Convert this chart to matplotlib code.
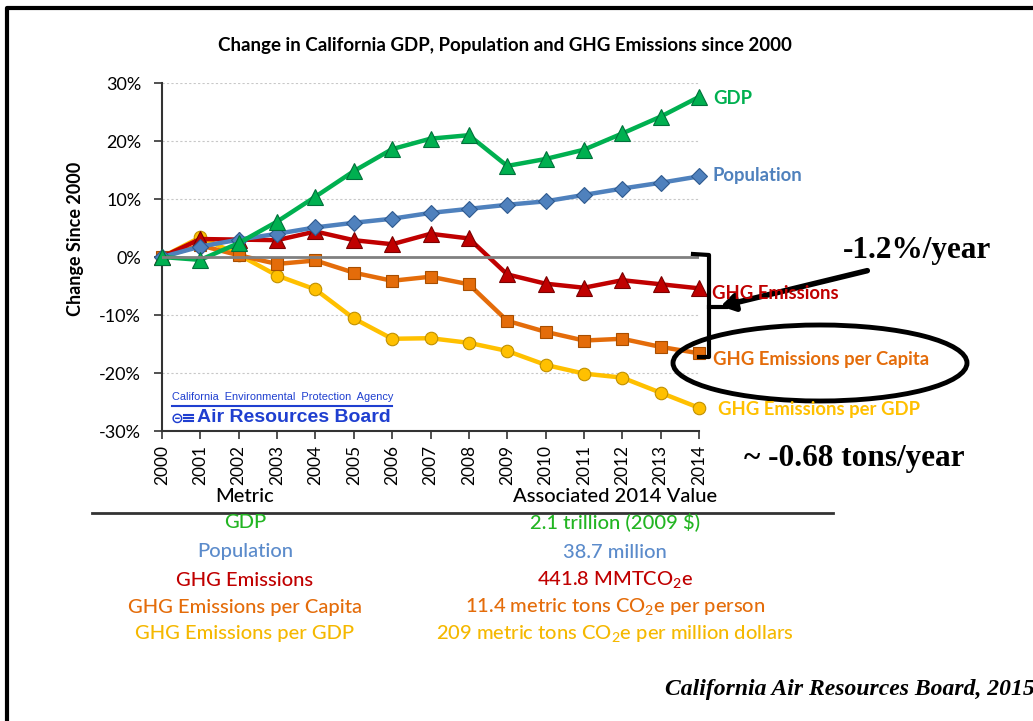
import numpy as np
import matplotlib
matplotlib.use("Agg")
import matplotlib.pyplot as plt
from matplotlib.patches import Ellipse, FancyArrowPatch
from matplotlib.lines import Line2D
from matplotlib.ticker import FuncFormatter

plt.rcParams['font.family'] = ['Lato', 'DejaVu Sans']
plt.rcParams['mathtext.fontset'] = 'custom'
plt.rcParams['mathtext.rm'] = 'Lato'

# data (percent change since 2000)
years = list(range(2000, 2015))
gdp = [0, -0.5, 2.4, 6.1, 10.4, 14.8, 18.6, 20.4, 21.0, 15.7, 16.9, 18.5, 21.3, 24.2, 27.6]
population = [0, 1.8, 3.0, 4.0, 5.1, 5.9, 6.6, 7.6, 8.3, 9.0, 9.6, 10.7, 11.8, 12.8, 13.9]
ghg = [0, 3.1, 3.0, 2.9, 4.4, 2.9, 2.2, 4.0, 3.2, -3.0, -4.6, -5.3, -4.0, -4.7, -5.4]
ghg_capita = [0, 2.0, 0.3, -1.2, -0.6, -2.7, -4.1, -3.4, -4.7, -11.0, -12.9, -14.4, -14.1, -15.5, -16.6]
ghg_gdp = [0, 3.4, 0.4, -3.2, -5.6, -10.6, -14.1, -14.0, -14.8, -16.2, -18.6, -20.1, -20.8, -23.4, -26.0]

metrics = ["GDP", "Population", "GHG Emissions", "GHG Emissions per Capita", "GHG Emissions per GDP"]
values_2014 = ["2.1 trillion (2009 $)", "38.7 million", r"441.8 MMTCO$_\mathregular{2}$e",
               r"11.4 metric tons CO$_\mathregular{2}$e per person",
               r"209 metric tons CO$_\mathregular{2}$e per million dollars"]

W, H = 1033, 721
def fx(x):
    return x / W
def fy(y):
    return 1 - y / H

fig = plt.figure(figsize=(W / 100, H / 100), dpi=100)
ax = fig.add_axes([fx(162), fy(431), fx(699) - fx(162), fy(83) - fy(431)])

series = [
    (ghg_gdp, '#FFC000', 'o', '#C09000', 9),
    (ghg_capita, '#E46C0A', 's', '#A84E00', 9),
    (ghg, '#C00000', '^', '#7A0000', 11),
    (population, '#4F81BD', 'D', '#2F5A8F', 8),
    (gdp, '#00B050', '^', '#00703A', 11),
]
for vals, col, mk, ec, ms in series:
    ax.plot(years, vals, color=col, lw=3.2, marker=mk, ms=ms, mfc=col, mec=ec, mew=0.8,
            clip_on=False, zorder=3)

for g in [-20, -10, 10, 20, 30]:
    ax.plot([2000, 2014], [g, g], color='#C8C8C8', lw=0.8, ls=(0, (2, 2)), zorder=1)
ax.plot([2000, 2014], [0, 0], color='#808080', lw=2, zorder=4)

ax.set_xlim(2000, 2014)
ax.set_ylim(-30, 30)
ax.set_yticks([-30, -20, -10, 0, 10, 20, 30])
ax.yaxis.set_major_formatter(FuncFormatter(lambda v, p: f"{v:.0f}%"))
ax.set_xticks(years)
ax.set_xticklabels([str(y) for y in years], rotation=90, fontsize=12.5)
ax.tick_params(axis='y', labelsize=13, length=6, width=1.2, color='#333333', pad=9)
ax.tick_params(axis='x', length=6, width=1.2, color='#333333', pad=4)
for s in ['top', 'right']:
    ax.spines[s].set_visible(False)
for s in ['left', 'bottom']:
    ax.spines[s].set_color('#333333')
    ax.spines[s].set_linewidth(1.5)

fig.text(fx(75), fy(239), "Change Since 2000", rotation=90, ha='center', va='center',
         fontsize=13, fontweight='bold')

fig.text(fx(505), fy(46), "Change in California GDP, Population and GHG Emissions since 2000",
         ha='center', va='center', fontsize=13.5, fontweight='bold')

# series end labels
end_labels = [
    ("GDP", 713, 99, '#00B050'),
    ("Population", 713, 175, '#4F81BD'),
    ("GHG Emissions", 712, 293, '#C00000'),
    ("GHG Emissions per Capita", 713, 360, '#E46C0A'),
    ("GHG Emissions per GDP", 718, 410, '#FFC000'),
]
for t, x, y, c in end_labels:
    fig.text(fx(x), fy(y), t, ha='left', va='center', fontsize=13.3, fontweight='bold', color=c)

# logo
fig.text(fx(172), fy(397), "California  Environmental  Protection  Agency", ha='left', va='center',
         fontsize=7.9, color='#1F3FD0', family=['Liberation Sans', 'DejaVu Sans'])
fig.add_artist(Line2D([fx(172), fx(392)], [fy(406), fy(406)], color='#1F3FD0', lw=1.5))
fig.text(fx(197), fy(418), "Air Resources Board", ha='left', va='center', fontsize=14,
         fontweight='bold', color='#1F3FD0', family=['Liberation Sans', 'DejaVu Sans'])
fig.text(fx(171), fy(418), "\u229d", ha='left', va='center', fontsize=11, fontweight='bold',
         color='#1F3FD0', family=['DejaVu Sans'])
for dy in (-3, 0, 3):
    fig.add_artist(Line2D([fx(184), fx(193)], [fy(418 + dy), fy(418 + dy)], color='#1F3FD0', lw=1.5))

# annotations
bx = [fx(693), fx(709), fx(709), fx(699)]
by = [fy(254), fy(255), fy(357), fy(357)]
fig.add_artist(Line2D(bx, by, color='black', lw=3))
fig.add_artist(Line2D([fx(709), fx(726)], [fy(307), fy(307)], color='black', lw=3))
fig.add_artist(FancyArrowPatch((fx(870), fy(270)), (fx(718), fy(307)), transform=fig.transFigure,
                               arrowstyle='-|>,head_length=8,head_width=5', color='black', lw=4,
                               mutation_scale=1))
fig.add_artist(Ellipse((fx(820), fy(363)), fx(294), 76 / H, transform=fig.transFigure,
                       fill=False, ec='black', lw=3.5))
serif = ['Liberation Serif', 'DejaVu Serif']
fig.text(fx(917), fy(250), "-1.2%/year", ha='center', va='center', fontsize=22.5,
         fontweight='bold', family=serif)
fig.text(fx(854), fy(458), "~ -0.68 tons/year", ha='center', va='center', fontsize=22.5,
         fontweight='bold', family=serif)
fig.text(fx(665), fy(690), "California Air Resources Board, 2015", ha='left', va='center',
         fontsize=17, fontweight='bold', style='italic', family=serif)

# table
fig.text(fx(245), fy(497), "Metric", ha='center', va='center', fontsize=14.5, fontweight='medium')
fig.text(fx(615), fy(497), "Associated 2014 Value", ha='center', va='center', fontsize=14.5,
         fontweight='medium')
fig.add_artist(Line2D([fx(92), fx(833)], [fy(513), fy(513)], color='#333333', lw=2))
row_colors = ['#22B522', '#5B8BCB', '#C00000', '#E46C0A', '#F5B800']
row_y = [522, 552, 580, 607, 634]
for m, v, c, y in zip(metrics, values_2014, row_colors, row_y):
    fig.text(fx(245), fy(y), m, ha='center', va='center', fontsize=14.5, color=c, fontweight='medium')
    fig.text(fx(615), fy(y), v, ha='center', va='center', fontsize=14.5, color=c, fontweight='medium')

# slide border
fig.add_artist(Line2D([fx(7), fx(7), fx(W)], [0, fy(8), fy(8)], color='black', lw=3))

fig.savefig("out.png", dpi=100)
